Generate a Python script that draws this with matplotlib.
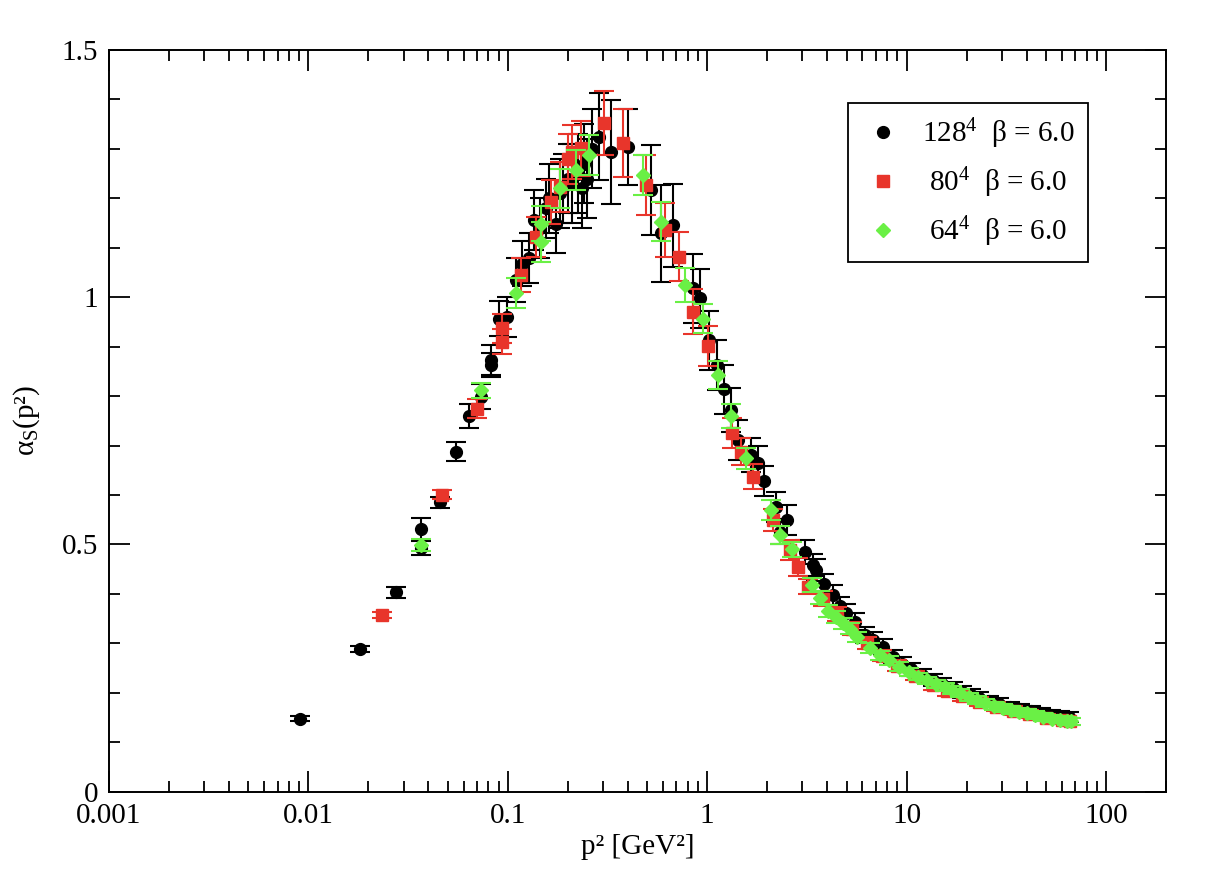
import numpy as np
import matplotlib
matplotlib.use('Agg')
import matplotlib.pyplot as plt

plt.rcParams['font.family'] = ['Liberation Serif', 'DejaVu Serif']
plt.rcParams['mathtext.fontset'] = 'custom'
plt.rcParams['mathtext.rm'] = 'Liberation Serif'
plt.rcParams['mathtext.it'] = 'Liberation Serif:italic'

# 128^4 lattice
x128 = [0.0091, 0.0182, 0.0274, 0.0365, 0.0365, 0.0457, 0.0548, 0.064, 0.0732, 0.0822,
        0.0822, 0.0905, 0.099, 0.1097, 0.118, 0.128, 0.135, 0.145, 0.155, 0.16,
        0.174, 0.182, 0.19, 0.20, 0.21, 0.225, 0.235, 0.24, 0.25, 0.265,
        0.288, 0.329, 0.399, 0.523, 0.587, 0.672, 0.847, 0.922, 1.026, 1.122,
        1.22, 1.32, 1.427, 1.66, 1.80, 1.92, 2.22, 2.33, 2.50, 3.08,
        3.38, 3.51, 3.85, 4.25, 4.62, 4.99, 5.50, 6.18, 6.81, 7.6,
        8.5, 9.5, 10.5, 12.0, 13.5, 15.0, 17.0, 19.0, 21.0, 23.0,
        26.0, 29.0, 33.0, 37.0, 42.0, 47.0, 53.0, 59.0, 65.0]
y128 = [0.148, 0.288, 0.403, 0.531, 0.493, 0.585, 0.688, 0.760, 0.799, 0.863,
        0.873, 0.957, 0.960, 1.035, 1.068, 1.079, 1.156, 1.14, 1.18, 1.20,
        1.149, 1.21, 1.22, 1.24, 1.23, 1.25, 1.22, 1.27, 1.24, 1.30,
        1.325, 1.294, 1.304, 1.217, 1.129, 1.146, 1.018, 0.998, 0.913, 0.863,
        0.814, 0.772, 0.711, 0.681, 0.664, 0.628, 0.576, 0.526, 0.549, 0.485,
        0.458, 0.448, 0.421, 0.398, 0.376, 0.361, 0.344, 0.317, 0.307, 0.293,
        0.272, 0.258, 0.248, 0.236, 0.226, 0.218, 0.210, 0.202, 0.196, 0.190,
        0.183, 0.178, 0.172, 0.167, 0.163, 0.160, 0.156, 0.153, 0.151]
e128 = [0.005, 0.006, 0.012, 0.022, 0.015, 0.012, 0.020, 0.025, 0.025, 0.025,
        0.030, 0.035, 0.040, 0.045, 0.045, 0.050, 0.060, 0.060, 0.060, 0.070,
        0.060, 0.070, 0.070, 0.070, 0.080, 0.080, 0.080, 0.080, 0.080, 0.080,
        0.088, 0.105, 0.076, 0.091, 0.098, 0.084, 0.070, 0.060, 0.060, 0.050,
        0.050, 0.045, 0.040, 0.035, 0.035, 0.030, 0.030, 0.025, 0.030, 0.025,
        0.022, 0.022, 0.020, 0.020, 0.018, 0.018, 0.017, 0.016, 0.015, 0.015,
        0.014, 0.014, 0.013, 0.013, 0.013, 0.012, 0.012, 0.012, 0.012, 0.011,
        0.011, 0.011, 0.010, 0.010, 0.010, 0.010, 0.010, 0.010, 0.010]

# 80^4 lattice
x80 = [0.0235, 0.0468, 0.0704, 0.094, 0.094, 0.116, 0.138, 0.164, 0.183, 0.20,
       0.211, 0.233, 0.305, 0.377, 0.494, 0.611, 0.726, 0.847, 1.007, 1.336,
       1.48, 1.69, 2.13, 2.59, 2.85, 3.2, 3.8, 4.5, 5.3, 6.3,
       7.5, 9.0, 11.0, 13.5, 16.0, 19.0, 23.0, 28.0, 34.0, 41.0,
       50.0, 60.0, 66.0]
y80 = [0.357, 0.601, 0.775, 0.910, 0.937, 1.045, 1.122, 1.193, 1.223, 1.28,
       1.294, 1.301, 1.352, 1.312, 1.227, 1.136, 1.082, 0.971, 0.901, 0.725,
       0.688, 0.637, 0.549, 0.489, 0.455, 0.415, 0.390, 0.360, 0.330, 0.300,
       0.275, 0.255, 0.235, 0.215, 0.203, 0.193, 0.182, 0.172, 0.164, 0.157,
       0.150, 0.145, 0.142]
e80 = [0.006, 0.010, 0.020, 0.025, 0.030, 0.035, 0.040, 0.045, 0.050, 0.050,
       0.055, 0.055, 0.065, 0.068, 0.060, 0.055, 0.050, 0.045, 0.040, 0.030,
       0.028, 0.025, 0.022, 0.020, 0.018, 0.016, 0.015, 0.014, 0.013, 0.012,
       0.011, 0.011, 0.010, 0.010, 0.010, 0.009, 0.009, 0.009, 0.009, 0.008,
       0.008, 0.008, 0.008]

# 64^4 lattice
x64 = [0.0365, 0.0732, 0.1097, 0.1465, 0.1465, 0.183, 0.220, 0.256, 0.475, 0.587,
       0.770, 0.95, 1.13, 1.32, 1.57, 2.08, 2.33, 2.66, 3.35, 3.67,
       4.05, 4.40, 4.80, 5.19, 5.61, 6.55, 7.35, 8.2, 9.2, 10.3,
       11.4, 12.6, 14.0, 15.5, 16.8, 18.5, 20.5, 22.5, 24.8, 27.5,
       30.5, 33.5, 36.4, 40.0, 44.0, 48.5, 53.6, 59.0, 64.0, 67.0]
y64 = [0.499, 0.812, 1.008, 1.112, 1.149, 1.220, 1.257, 1.288, 1.247, 1.153,
       1.025, 0.957, 0.843, 0.760, 0.674, 0.570, 0.519, 0.490, 0.418, 0.392,
       0.366, 0.354, 0.341, 0.330, 0.313, 0.290, 0.276, 0.266, 0.253, 0.242,
       0.233, 0.225, 0.217, 0.211, 0.206, 0.199, 0.192, 0.186, 0.179, 0.174,
       0.170, 0.166, 0.162, 0.159, 0.156, 0.152, 0.148, 0.146, 0.143, 0.142]
e64 = [0.012, 0.015, 0.030, 0.040, 0.035, 0.040, 0.040, 0.040, 0.040, 0.040,
       0.035, 0.030, 0.028, 0.025, 0.022, 0.020, 0.018, 0.016, 0.014, 0.013,
       0.012, 0.012, 0.011, 0.011, 0.010, 0.010, 0.009, 0.009, 0.009, 0.008,
       0.008, 0.008, 0.008, 0.008, 0.008, 0.008, 0.008, 0.008, 0.008, 0.008,
       0.008, 0.008, 0.008, 0.008, 0.008, 0.008, 0.008, 0.008, 0.008, 0.008]

labels = [r'128$^{4}$  β = 6.0', r' 80$^{4}$  β = 6.0', r' 64$^{4}$  β = 6.0']
red = '#e8352b'
green = '#6af045'

fig = plt.figure(figsize=(12.26, 8.84), dpi=100)
ax = fig.add_axes([0.0889, 0.1044, 0.8622, 0.839])

ax.errorbar(x128, y128, yerr=e128, fmt='o', color='black', ms=8.5, capsize=7.5,
            elinewidth=1.5, capthick=1.5, zorder=2)
ax.errorbar(x80, y80, yerr=e80, fmt='s', color=red, ms=8, capsize=7.5,
            elinewidth=1.5, capthick=1.5, zorder=3)
ax.errorbar(x64, y64, yerr=e64, fmt='D', color=green, ms=7, capsize=7.5,
            elinewidth=1.5, capthick=1.5, zorder=4)

# legend handles only (no error bars in legend)
ax.plot([], [], 'o', color='black', ms=8.5, label=labels[0])
ax.plot([], [], 's', color=red, ms=8, label=labels[1])
ax.plot([], [], 'D', color=green, ms=7, label=labels[2])

ax.set_xscale('log')
ax.set_xlim(0.001, 200)
ax.set_ylim(0, 1.5)
ax.set_yticks([0, 0.5, 1, 1.5])
ax.set_yticklabels(['0', '0.5', '1', '1.5'])
ax.set_yticks(np.arange(0, 1.5, 0.1), minor=True)
ax.set_xticks([0.001, 0.01, 0.1, 1, 10, 100])
ax.set_xticklabels(['0.001', '0.01', '0.1', '1', '10', '100'])
ax.xaxis.set_minor_locator(matplotlib.ticker.LogLocator(base=10, subs=np.arange(2, 10)))
ax.xaxis.set_minor_formatter(matplotlib.ticker.NullFormatter())

ax.tick_params(which='both', direction='in', top=True, right=True, width=1.3, labelsize=21)
ax.tick_params(which='major', length=15, pad=8)
ax.tick_params(which='minor', length=8)
for s in ax.spines.values():
    s.set_linewidth(1.4)

ax.set_xlabel('p² [GeV²]', fontsize=21, labelpad=4)
ax.set_ylabel(r'α$_\mathrm{S}$(p²)', fontsize=21, labelpad=14)

leg = ax.legend(loc='upper left', bbox_to_anchor=(0.699, 0.9286), borderaxespad=0,
                fontsize=21, frameon=True, fancybox=False, edgecolor='black',
                framealpha=1, handlelength=1.5, handletextpad=0.6, borderpad=0.45,
                labelspacing=0.5)
leg.get_frame().set_linewidth(1.3)

fig.savefig('out.png', dpi=100)
